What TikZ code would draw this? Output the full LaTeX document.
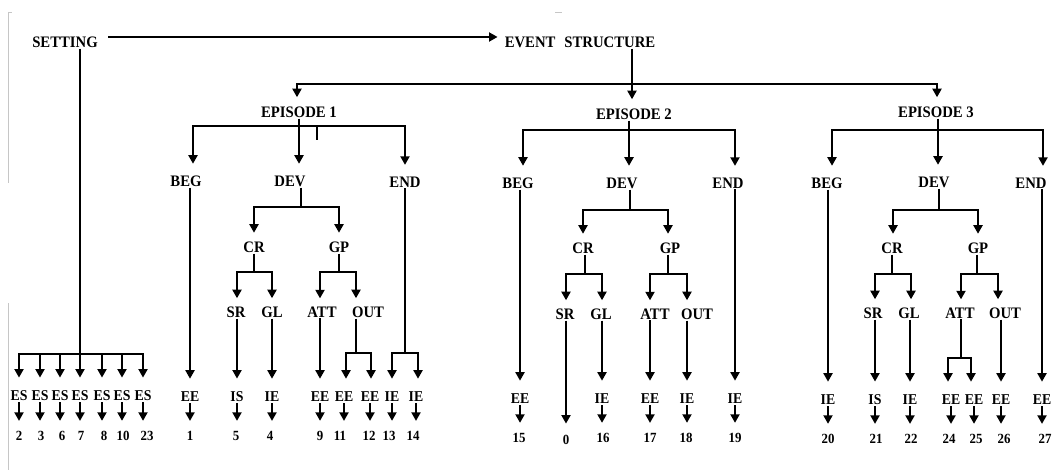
\documentclass[tikz,border=0pt]{standalone}
\usepackage{fontspec}
\setmainfont{Liberation Serif}[FakeStretch=0.92]
\usetikzlibrary{arrows.meta}
\tikzset{
  lab/.style={font=\fontsize{16}{16}\selectfont\bfseries, inner sep=1pt},
  sml/.style={font=\fontsize{15}{15}\selectfont\bfseries, inner sep=1pt},
  num/.style={font=\fontsize{14}{14}\selectfont\bfseries, inner sep=1pt},
  ln/.style={line width=1.9pt},
  arr/.style={line width=1.9pt, -{Triangle[length=8.5pt,width=9pt]}},
  aep/.style={arr, shorten >=8.2pt},
  alv/.style={arr, shorten >=10.7pt},
  acr/.style={arr, shorten >=7.7pt},
  asr/.style={arr, shorten >=7.2pt},
  alb/.style={arr, shorten >=12.2pt},
  anm/.style={arr, shorten >=9.3pt},
  scan/.style={gray!45, line width=0.7pt},
}
\begin{document}
\begin{tikzpicture}[x=1pt,y=-1pt]
\useasboundingbox (0,0) rectangle (1056,473);

% faint scan marks
\coordinate (g1) at (8,12); \coordinate (g2) at (8,183);
\coordinate (g3) at (8,303); \coordinate (g4) at (8,470);
\draw[scan] (g1) -- (g2);
\draw[scan] (g3) -- (g4);
\draw[scan] (g1) -- ++(4,0);
\coordinate (g5) at (555,12);
\draw[scan] (g5) -- ++(7,0);

% ---------- top ----------
\node[lab] (setting) at (65,42) {SETTING};
\node[lab] (event) at (580,42) {EVENT\hspace{9pt}STRUCTURE};
\draw[arr, shorten <=9.5pt, shorten >=6pt] ([yshift=5pt]setting.east) -- ([yshift=5pt]event.west);

\node[lab] (ep1) at (299,112) {EPISODE 1};
\node[lab] (ep2) at (634,114) {EPISODE 2};
\node[lab] (ep3) at (936,112) {EPISODE 3};
\coordinate (esj) at (632,84);
\coordinate (esa) at (297,84);
\coordinate (esb) at (937,84);
\draw[ln] (event.south -| esj) -- (esj);
\draw[aep] (esj) -- (esa) -- (esa |- ep1.north);
\draw[aep] (esj) -- (esj |- ep2.north);
\draw[aep] (esj) -- (esb) -- (esb |- ep3.north);

% ---------- setting branch ----------
\coordinate (sj) at (80,354);
\foreach \x [count=\i] in {19,40,60,80,102,122,143}
  \node[sml] (es\i) at (\x,396) {ES};
\foreach \x/\t [count=\i] in {19/2,41/3,62/6,81/7,104/8,123/10,147/23}
  \node[num] (sn\i) at (\x,436) {\t};
\draw[ln] (setting.south -| sj) -- (sj);
\foreach \i in {1,...,7} {
  \draw[alb] (sj) -- (sj -| es\i) -- (es\i.north);
  \draw[anm] (es\i.south) -- (es\i.south |- sn\i.north);
}

% ---------- episode 1 ----------
\node[lab] (beg1) at (186,181) {BEG};
\node[lab] (dev1) at (290,181) {DEV};
\node[lab] (end1) at (405,182) {END};
\coordinate (e1j) at (299,126);
\coordinate (e1a) at (193,126);
\coordinate (e1b) at (405,126);
\draw[ln] (ep1.south) -- (e1j);
\draw[alv] (e1j) -- (e1a) -- (e1a |- beg1.north);
\draw[alv] (e1j) -- (e1j |- dev1.north);
\draw[alv] (e1j) -- (e1b) -- (e1b |- end1.north);
\coordinate (tick1) at (317,126);
\draw[ln] (tick1) -- ++(0,14);

\node[lab] (cr1) at (254,247) {CR};
\node[lab] (gp1) at (339,247) {GP};
\coordinate (d1j) at (301,207);
\coordinate (d1a) at (254,207);
\coordinate (d1b) at (339,207);
\draw[ln] (dev1.south -| d1j) -- (d1j);
\draw[acr] (d1j) -- (d1a) -- (cr1.north);
\draw[acr] (d1j) -- (d1b) -- (gp1.north);

\node[lab] (sr1) at (236,312) {SR};
\node[lab] (gl1) at (272,312) {GL};
\node[lab] (att1) at (322,312) {ATT};
\node[lab] (out1) at (368,312) {OUT};
\coordinate (c1j) at (254,272);
\coordinate (c1a) at (237,272);
\coordinate (c1b) at (272,272);
\draw[ln] (cr1.south) -- (c1j);
\draw[asr] (c1j) -- (c1a) -- (c1a |- sr1.north);
\draw[asr] (c1j) -- (c1b) -- (gl1.north);
\coordinate (g1j) at (339,272);
\coordinate (g1a) at (320,272);
\coordinate (g1b) at (356,272);
\draw[ln] (gp1.south) -- (g1j);
\draw[asr] (g1j) -- (g1a) -- (g1a |- att1.north);
\draw[asr] (g1j) -- (g1b) -- (g1b |- out1.north);

\node[sml] (ee1) at (190,397) {EE};
\node[num] (n1) at (190,436) {1};
\draw[alb] (beg1.south -| ee1) -- (ee1.north);
\draw[anm] (ee1.south) -- (ee1.south |- n1.north);
\node[sml] (is5) at (237,397) {IS};
\node[num] (n5) at (236,436) {5};
\draw[alb] (sr1.south -| is5) -- (is5.north);
\draw[anm] (is5.south) -- (is5.south |- n5.north);
\node[sml] (ie4) at (272,397) {IE};
\node[num] (n4) at (270,436) {4};
\draw[alb] (gl1.south -| ie4) -- (ie4.north);
\draw[anm] (ie4.south) -- (ie4.south |- n4.north);
\node[sml] (ee9) at (320,397) {EE};
\node[num] (n9) at (320,436) {9};
\draw[alb] (att1.south -| ee9) -- (ee9.north);
\draw[anm] (ee9.south) -- (ee9.south |- n9.north);

\coordinate (o1j) at (356,353);
\coordinate (o1a) at (346,353);
\coordinate (o1b) at (371,353);
\node[sml] (ee11) at (344,397) {EE};
\node[sml] (ee12) at (370,397) {EE};
\node[num] (n11) at (340,436) {11};
\node[num] (n12) at (369,436) {12};
\draw[ln] (out1.south -| o1j) -- (o1j);
\draw[alb] (o1j) -- (o1a) -- (o1a |- ee11.north);
\draw[alb] (o1j) -- (o1b) -- (o1b |- ee12.north);
\draw[anm] (ee11.south) -- (ee11.south |- n11.north);
\draw[anm] (ee12.south) -- (ee12.south |- n12.north);

\coordinate (en1j) at (405,353);
\coordinate (en1a) at (392,353);
\coordinate (en1b) at (418,353);
\node[sml] (ie13) at (392,397) {IE};
\node[sml] (ie14) at (416,397) {IE};
\node[num] (n13) at (389,436) {13};
\node[num] (n14) at (413,436) {14};
\draw[ln] (end1.south -| en1j) -- (en1j);
\draw[alb] (en1j) -- (en1a) -- (en1a |- ie13.north);
\draw[alb] (en1j) -- (en1b) -- (en1b |- ie14.north);
\draw[anm] (ie13.south) -- (ie13.south |- n13.north);
\draw[anm] (ie14.south) -- (ie14.south |- n14.north);

% ---------- episode 2 ----------
\node[lab] (beg2) at (518,183) {BEG};
\node[lab] (dev2) at (622,183) {DEV};
\node[lab] (end2) at (728,183) {END};
\coordinate (e2j) at (629,130);
\coordinate (e2a) at (523,130);
\coordinate (e2b) at (735,130);
\draw[ln] (ep2.south -| e2j) -- (e2j);
\draw[alv] (e2j) -- (e2a) -- (e2a |- beg2.north);
\draw[alv] (e2j) -- (e2j |- dev2.north);
\draw[alv] (e2j) -- (e2b) -- (e2b |- end2.north);

\node[lab] (cr2) at (583,248) {CR};
\node[lab] (gp2) at (670,248) {GP};
\coordinate (d2j) at (630,210);
\coordinate (d2a) at (583,210);
\coordinate (d2b) at (668,210);
\draw[ln] (dev2.south -| d2j) -- (d2j);
\draw[acr] (d2j) -- (d2a) -- (cr2.north);
\draw[acr] (d2j) -- (d2b) -- (d2b |- gp2.north);

\node[lab] (sr2) at (565,314) {SR};
\node[lab] (gl2) at (601,314) {GL};
\node[lab] (att2) at (655,314) {ATT};
\node[lab] (out2) at (697,314) {OUT};
\coordinate (c2j) at (585,274);
\coordinate (c2a) at (566,274);
\coordinate (c2b) at (602,274);
\draw[ln] (cr2.south -| c2j) -- (c2j);
\draw[asr] (c2j) -- (c2a) -- (c2a |- sr2.north);
\draw[asr] (c2j) -- (c2b) -- (c2b |- gl2.north);
\coordinate (g2j) at (668,274);
\coordinate (g2a) at (650,274);
\coordinate (g2b) at (687,274);
\draw[ln] (gp2.south -| g2j) -- (g2j);
\draw[asr] (g2j) -- (g2a) -- (g2a |- att2.north);
\draw[asr] (g2j) -- (g2b) -- (g2b |- out2.north);

\node[sml] (ee15) at (520,399) {EE};
\node[num] (n15) at (519,438) {15};
\draw[alb] (beg2.south -| ee15) -- (ee15.north);
\draw[anm] (ee15.south) -- (ee15.south |- n15.north);
\node[num] (n0) at (566,440) {0};
\draw[arr, shorten >=10.5pt] (sr2.south -| n0) -- (n0.north);
\node[sml] (ie16) at (602,399) {IE};
\node[num] (n16) at (603,438) {16};
\draw[alb] (gl2.south -| ie16) -- (ie16.north);
\draw[anm] (ie16.south) -- (ie16.south |- n16.north);
\node[sml] (ee17) at (650,399) {EE};
\node[num] (n17) at (650,438) {17};
\draw[alb] (att2.south -| ee17) -- (ee17.north);
\draw[anm] (ee17.south) -- (ee17.south |- n17.north);
\node[sml] (ie18) at (687,399) {IE};
\node[num] (n18) at (686,438) {18};
\draw[alb] (out2.south -| ie18) -- (ie18.north);
\draw[anm] (ie18.south) -- (ie18.south |- n18.north);
\node[sml] (ie19) at (735,399) {IE};
\node[num] (n19) at (735,438) {19};
\draw[alb] (end2.south -| ie19) -- (ie19.north);
\draw[anm] (ie19.south) -- (ie19.south |- n19.north);

% ---------- episode 3 ----------
\node[lab] (beg3) at (827,183) {BEG};
\node[lab] (dev3) at (934,182) {DEV};
\node[lab] (end3) at (1031,183) {END};
\coordinate (e3j) at (938,130);
\coordinate (e3a) at (832,130);
\coordinate (e3b) at (1043,130);
\draw[ln] (ep3.south -| e3j) -- (e3j);
\draw[alv] (e3j) -- (e3a) -- (e3a |- beg3.north);
\draw[alv] (e3j) -- (e3j |- dev3.north);
\draw[alv] (e3j) -- (e3b) -- (e3b |- end3.north);

\node[lab] (cr3) at (892,248) {CR};
\node[lab] (gp3) at (978,248) {GP};
\coordinate (d3j) at (939,210);
\coordinate (d3a) at (893,210);
\coordinate (d3b) at (978,210);
\draw[ln] (dev3.south -| d3j) -- (d3j);
\draw[acr] (d3j) -- (d3a) -- (d3a |- cr3.north);
\draw[acr] (d3j) -- (d3b) -- (gp3.north);

\node[lab] (sr3) at (873,313) {SR};
\node[lab] (gl3) at (909,313) {GL};
\node[lab] (att3) at (960,313) {ATT};
\node[lab] (out3) at (1005,313) {OUT};
\coordinate (c3j) at (892,274);
\coordinate (c3a) at (875,274);
\coordinate (c3b) at (911,274);
\draw[ln] (cr3.south) -- (c3j);
\draw[asr] (c3j) -- (c3a) -- (c3a |- sr3.north);
\draw[asr] (c3j) -- (c3b) -- (c3b |- gl3.north);
\coordinate (g3j) at (977,274);
\coordinate (g3a) at (961,274);
\coordinate (g3b) at (998,274);
\draw[ln] (gp3.south -| g3j) -- (g3j);
\draw[asr] (g3j) -- (g3a) -- (g3a |- att3.north);
\draw[asr] (g3j) -- (g3b) -- (g3b |- out3.north);

\node[sml] (ie20) at (828,400) {IE};
\node[num] (n20) at (828,439) {20};
\draw[alb] (beg3.south -| ie20) -- (ie20.north);
\draw[anm] (ie20.south) -- (ie20.south |- n20.north);
\node[sml] (is21) at (875,400) {IS};
\node[num] (n21) at (876,439) {21};
\draw[alb] (sr3.south -| is21) -- (is21.north);
\draw[anm] (is21.south) -- (is21.south |- n21.north);
\node[sml] (ie22) at (910,400) {IE};
\node[num] (n22) at (911,439) {22};
\draw[alb] (gl3.south -| ie22) -- (ie22.north);
\draw[anm] (ie22.south) -- (ie22.south |- n22.north);

\coordinate (a3j) at (961,358);
\coordinate (a3a) at (948,358);
\coordinate (a3b) at (971,358);
\node[sml] (ee24) at (951,400) {EE};
\node[sml] (ee25) at (974,400) {EE};
\node[num] (n24) at (949,439) {24};
\node[num] (n25) at (976,439) {25};
\draw[ln] (att3.south -| a3j) -- (a3j);
\draw[alb] (a3j) -- (a3a) -- (a3a |- ee24.north);
\draw[alb] (a3j) -- (a3b) -- (a3b |- ee25.north);
\draw[anm] (ee24.south) -- (ee24.south |- n24.north);
\draw[anm] (ee25.south) -- (ee25.south |- n25.north);

\node[sml] (ee26) at (1001,400) {EE};
\node[num] (n26) at (1004,439) {26};
\draw[alb] (out3.south -| ee26) -- (ee26.north);
\draw[anm] (ee26.south) -- (ee26.south |- n26.north);
\node[sml] (ee27) at (1042,400) {EE};
\node[num] (n27) at (1045,439) {27};
\draw[alb] (end3.south -| ee27) -- (ee27.north);
\draw[anm] (ee27.south) -- (ee27.south |- n27.north);
\end{tikzpicture}
\end{document}
